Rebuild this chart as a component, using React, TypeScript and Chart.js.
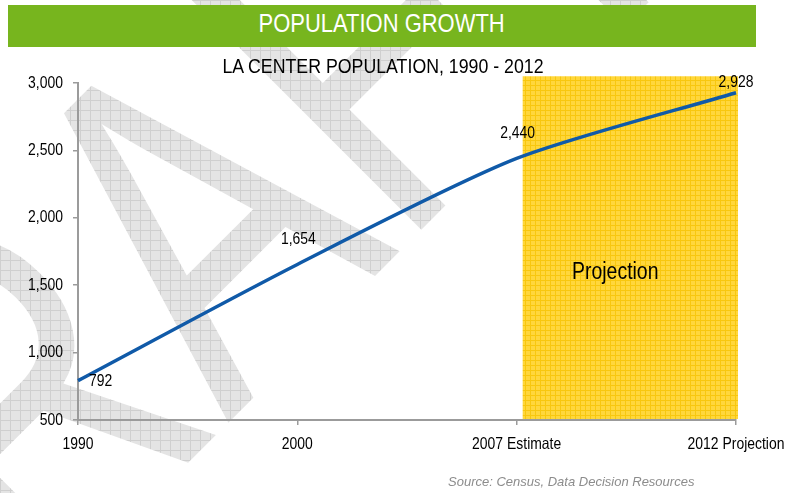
import React, { useEffect, useRef } from 'react';
import { Chart, registerables } from 'chart.js';

Chart.register(...registerables);

// ---- data ----
const categories = ['1990', '2000', '2007 Estimate', '2012 Projection'];
const population = [792, 1654, 2440, 2928];
const pointLabels = ['792', '1,654', '2,440', '2,928'];
const yTicks = [500, 1000, 1500, 2000, 2500, 3000];
const projectionStart = '2007 Estimate';
const projectionEnd = '2012 Projection';
const projectionTopValue = 3050;
const projectionLabelValue = 1600;

const FONT = '"Liberation Sans", Arial, sans-serif';
const SQUEEZE = 0.845; // mimic a narrow typeface
const WATERMARK_SQUEEZE = 0.75;

function makePattern(ctx: CanvasRenderingContext2D, size: number, base: string, line: string) {
  const pc = document.createElement('canvas');
  pc.width = size;
  pc.height = size;
  const p = pc.getContext('2d')!;
  p.fillStyle = base;
  p.fillRect(0, 0, size, size);
  p.fillStyle = line;
  p.fillRect(0, 0, size, 1);
  p.fillRect(0, 0, 1, size);
  return ctx.createPattern(pc, 'repeat')!;
}

function narrowText(
  ctx: CanvasRenderingContext2D,
  text: string,
  x: number,
  y: number,
  align: CanvasTextAlign,
  size: number
) {
  ctx.save();
  ctx.translate(x, y);
  ctx.scale(SQUEEZE, 1);
  ctx.font = `${size}px ${FONT}`;
  ctx.textAlign = align;
  ctx.textBaseline = 'middle';
  ctx.fillText(text, 0, 0);
  ctx.restore();
}

const watermarkPlugin = {
  id: 'watermark',
  beforeDraw(chart: any) {
    const ctx: CanvasRenderingContext2D = chart.ctx;
    ctx.save();
    const pat = makePattern(ctx, 10, '#e4e4e4', '#cfcfcf');
    ctx.translate(314, 337);
    ctx.rotate((-45 * Math.PI) / 180);
    ctx.scale(WATERMARK_SQUEEZE, 1);
    ctx.font = `487px ${FONT}`;
    pat.setTransform(ctx.getTransform().inverse());
    ctx.fillStyle = pat;
    ctx.textBaseline = 'alphabetic';
    const pre = ctx.measureText('DR').width + ctx.measureText('A').width / 2;
    ctx.fillText('DRAFT', -pre, 0);
    ctx.restore();
  },
};

const projectionPlugin = {
  id: 'projection',
  beforeDraw(chart: any) {
    const ctx: CanvasRenderingContext2D = chart.ctx;
    const xs = chart.scales.x;
    const ys = chart.scales.y;
    const x0 = xs.getPixelForValue(categories.indexOf(projectionStart)) + 6;
    const x1 = xs.getPixelForValue(categories.indexOf(projectionEnd)) + 2;
    const y0 = ys.getPixelForValue(projectionTopValue);
    const y1 = chart.chartArea.bottom - 1;
    ctx.save();
    ctx.fillStyle = makePattern(ctx, 5, '#ffd73c', '#f8c70e');
    ctx.fillRect(x0, y0, x1 - x0, y1 - y0);
    ctx.fillStyle = '#000';
    narrowText(ctx, 'Projection', x0 + (x1 - x0) * 0.43, ys.getPixelForValue(projectionLabelValue) + 1, 'center', 23);
    ctx.restore();
  },
};

const tickLabelPlugin = {
  id: 'narrowTicks',
  afterDraw(chart: any) {
    const ctx: CanvasRenderingContext2D = chart.ctx;
    const xs = chart.scales.x;
    const ys = chart.scales.y;
    ctx.save();
    ctx.fillStyle = '#000';
    xs.ticks.forEach((t: any, i: number) => {
      narrowText(ctx, String(xs.getLabelForValue(t.value)), xs.getPixelForTick(i), xs.top + 24, 'center', 16.5);
    });
    ys.ticks.forEach((t: any, i: number) => {
      narrowText(ctx, Number(t.value).toLocaleString('en-US'), ys.right - 15, ys.getPixelForTick(i), 'right', 16.5);
    });
    ctx.restore();
  },
};

const labelPlugin = {
  id: 'pointLabels',
  afterDatasetsDraw(chart: any) {
    const ctx: CanvasRenderingContext2D = chart.ctx;
    const meta = chart.getDatasetMeta(0);
    ctx.save();
    ctx.fillStyle = '#000';
    meta.data.forEach((pt: any, i: number) => {
      const text = pointLabels[i];
      if (i === 0) {
        narrowText(ctx, text, pt.x + 11, pt.y + 1, 'left', 16.5);
      } else if (i === meta.data.length - 1) {
        narrowText(ctx, text, pt.x, pt.y - 10, 'center', 16.5);
      } else {
        narrowText(ctx, text, pt.x + 1, pt.y - 25, 'center', 16.5);
      }
    });
    ctx.restore();
  },
};

export default function App() {
  const ref = useRef<HTMLCanvasElement>(null);

  useEffect(() => {
    const axisColor = '#9b9b9b';
    const chart = new Chart(ref.current!, {
      type: 'line',
      data: {
        labels: categories,
        datasets: [
          {
            data: population,
            borderColor: '#105aa8',
            borderWidth: 3.5,
            pointRadius: 0,
            tension: 0.25,
            fill: false,
          },
        ],
      },
      options: {
        responsive: false,
        animation: false,
        devicePixelRatio: 1,
        layout: { padding: { top: 83, right: 55, left: 0, bottom: 0 } },
        plugins: {
          legend: { display: false },
          tooltip: { enabled: false },
          title: { display: false },
        },
        scales: {
          x: {
            grid: { drawOnChartArea: false, tickLength: 5, color: axisColor, lineWidth: 1.5 },
            border: { color: axisColor, width: 2 },
            ticks: { display: false, autoSkip: false, maxRotation: 0 },
            afterFit: (s: any) => {
              s.height = 73;
            },
          },
          y: {
            min: 500,
            max: 3000,
            afterBuildTicks: (s: any) => {
              s.ticks = yTicks.map((v) => ({ value: v }));
            },
            grid: { drawOnChartArea: false, tickLength: 5, color: axisColor, lineWidth: 1.5 },
            border: { color: axisColor, width: 2 },
            ticks: { display: false },
            afterFit: (s: any) => {
              s.width = 78;
            },
          },
        },
      },
      plugins: [watermarkPlugin, projectionPlugin, labelPlugin, tickLabelPlugin],
    });
    return () => chart.destroy();
  }, []);

  const squeeze = `scaleX(${SQUEEZE})`;

  return (
    <div
      style={{
        position: 'absolute',
        left: 0,
        top: 0,
        width: 791,
        height: 493,
        background: '#fff',
        overflow: 'hidden',
      }}
    >
      <canvas ref={ref} width={791} height={493} style={{ position: 'absolute', left: 0, top: 0 }} />
      <div
        style={{
          position: 'absolute',
          left: 8,
          top: 5,
          width: 748,
          height: 42,
          background: '#77b51e',
          color: '#fff',
          font: `26px ${FONT}`,
          lineHeight: '36px',
          textAlign: 'center',
          whiteSpace: 'nowrap',
        }}
      >
        <span style={{ display: 'inline-block', transform: squeeze }}>POPULATION GROWTH</span>
      </div>
      <div
        style={{
          position: 'absolute',
          left: 383,
          top: 53,
          transform: `translateX(-50%) ${squeeze}`,
          whiteSpace: 'nowrap',
          color: '#000',
          font: `21px ${FONT}`,
          lineHeight: '25px',
        }}
      >
        LA CENTER POPULATION, 1990 - 2012
      </div>
      <div
        style={{
          position: 'absolute',
          left: 448,
          top: 474,
          whiteSpace: 'nowrap',
          color: '#8c8c8c',
          font: `italic 13px ${FONT}`,
          lineHeight: '15px',
        }}
      >
        Source: Census, Data Decision Resources
      </div>
    </div>
  );
}
